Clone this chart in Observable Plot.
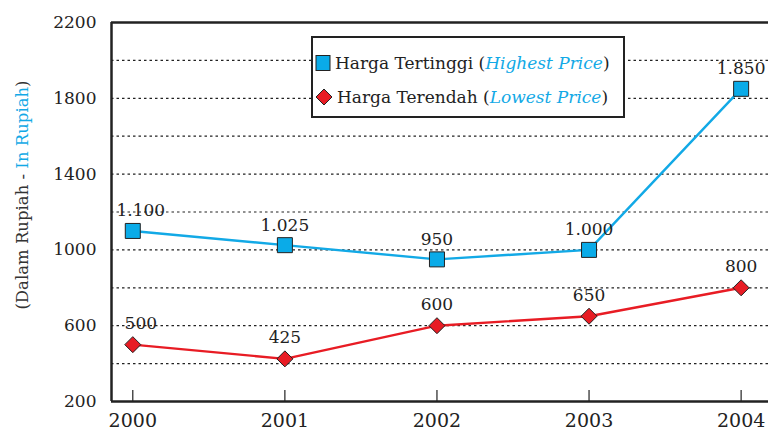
<!DOCTYPE html>
<html>
<head>
<meta charset="utf-8">
<script src="https://cdn.jsdelivr.net/npm/d3@7"></script>
<script src="https://cdn.jsdelivr.net/npm/@observablehq/plot@0.6"></script>
<style>
  html, body { margin: 0; padding: 0; background: #fff; }
  #wrap { position: relative; width: 768px; height: 439px; font-family: "DejaVu Serif", serif; color: #222; }
  #ytitle { position: absolute; left: 22px; top: 195px; transform: translate(-50%, -50%) rotate(-90deg); white-space: nowrap; font-size: 16.5px; color: #333; }
  #legend { position: absolute; left: 311px; top: 36px; width: 310px; height: 78px; border: 2.5px solid #222; background: #fff; font-size: 17px; }
  .row { position: absolute; left: 2px; display: flex; align-items: center; white-space: nowrap; }
  .row svg { margin-right: 4px; }
  .blue { color: #12a9e6; }
  em { font-style: italic; }
</style>
</head>
<body>
<div id="wrap">
  <div id="chart"></div>
  <div id="ytitle">(Dalam Rupiah - <span class="blue">In Rupiah</span>)</div>
  <div id="legend">
    <div class="row" style="top:15px"><svg width="16" height="18"><rect x="1" y="1.5" width="14" height="15" fill="#0aabe8" stroke="#222" stroke-width="1"/></svg>Harga Tertinggi (<em class="blue">Highest Price</em>)</div>
    <div class="row" style="top:49px"><svg width="18" height="18"><path d="M9,1L17,9L9,17L1,9Z" fill="#e81c24" stroke="#222" stroke-width="1"/></svg>Harga Terendah (<em class="blue">Lowest Price</em>)</div>
  </div>
</div>
<script>
const years = [2000, 2001, 2002, 2003, 2004];
const highest = [1100, 1025, 950, 1000, 1850];
const lowest = [500, 425, 600, 650, 800];
const highLabels = ["1.100", "1.025", "950", "1.000", "1.850"];
const lowLabels = ["500", "425", "600", "650", "800"];
const yTickLabels = [200, 600, 1000, 1400, 1800, 2200];
const gridValues = [400, 600, 800, 1000, 1200, 1400, 1600, 1800, 2000];
const xDomain = [1999.86, 2004.18];
const yDomain = [200, 2200];

const hi = years.map((y, i) => ({year: y, value: highest[i], label: highLabels[i]}));
const lo = years.map((y, i) => ({year: y, value: lowest[i], label: lowLabels[i]}));
const isFirst = d => d.year === years[0];
const notFirst = d => d.year !== years[0];

const square = { draw(ctx, size) { const r = Math.sqrt(size / Math.PI); ctx.moveTo(-r, -r); ctx.lineTo(r, -r); ctx.lineTo(r, r); ctx.lineTo(-r, r); ctx.closePath(); } };
const diamond = { draw(ctx, size) { const r = Math.sqrt(size / Math.PI); ctx.moveTo(0, -r); ctx.lineTo(r, 0); ctx.lineTo(0, r); ctx.lineTo(-r, 0); ctx.closePath(); } };

const blue = "#12a9e6", red = "#e81c24";
const font = "DejaVu Serif, serif";
const labelStyle = { x: "year", y: "value", text: "label", fontSize: 17, fill: "#222" };

const chart = Plot.plot({
  width: 768, height: 439,
  marginLeft: 111, marginRight: 0, marginTop: 22, marginBottom: 38,
  style: { fontFamily: font, background: "#fff", color: "#222" },
  x: { domain: xDomain, axis: null },
  y: { domain: yDomain, axis: null },
  marks: [
    Plot.ruleY(gridValues, { stroke: "#222", strokeWidth: 1.2, strokeDasharray: "2.5,3" }),
    Plot.ruleY(yDomain, { stroke: "#222", strokeWidth: 2.5 }),
    Plot.ruleX([xDomain[0]], { stroke: "#222", strokeWidth: 2.5 }),
    Plot.tickX(years, { x: d => d, stroke: "#222", strokeWidth: 1.2, insetTop: 368 }),
    Plot.text(years, { x: d => d, frameAnchor: "bottom", dy: 19, text: d => String(d), fontSize: 19, fill: "#222", lineAnchor: "middle" }),
    Plot.text(yTickLabels, { y: d => d, frameAnchor: "left", dx: -15, textAnchor: "end", text: d => String(d), fontSize: 17, fill: "#222" }),
    Plot.lineY(hi, { x: "year", y: "value", stroke: blue, strokeWidth: 2.4 }),
    Plot.lineY(lo, { x: "year", y: "value", stroke: red, strokeWidth: 2.4 }),
    Plot.dot(hi, { x: "year", y: "value", symbol: square, r: 7.5, fill: "#0aabe8", stroke: "#222", strokeWidth: 1 }),
    Plot.dot(lo, { x: "year", y: "value", symbol: diamond, r: 8, fill: red, stroke: "#222", strokeWidth: 1 }),
    Plot.text(hi, { ...labelStyle, filter: notFirst, dy: -20 }),
    Plot.text(hi, { ...labelStyle, filter: isFirst, dy: -20, dx: 8 }),
    Plot.text(lo, { ...labelStyle, filter: notFirst, dy: -21 }),
    Plot.text(lo, { ...labelStyle, filter: isFirst, dy: -21, dx: 8 })
  ]
});
document.getElementById("chart").appendChild(chart);
</script>
</body>
</html>
